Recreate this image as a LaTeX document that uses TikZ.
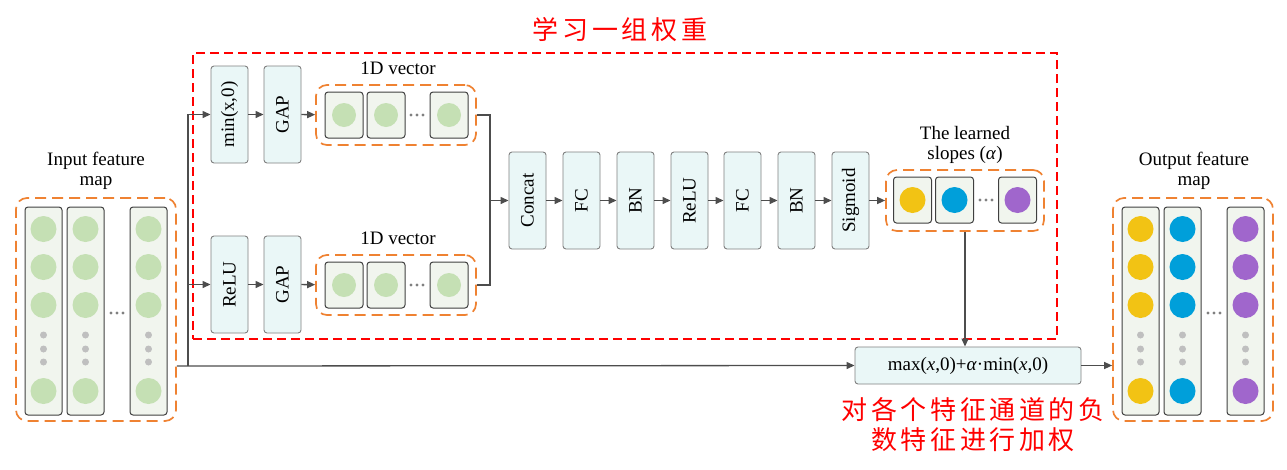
\documentclass[tikz,border=0pt]{standalone}
\usepackage{fontspec}
\setmainfont{Liberation Serif}
\newfontfamily\cjk[LetterSpace=14]{Noto Sans CJK SC}
\usetikzlibrary{arrows.meta}
\definecolor{boxfill}{HTML}{EAF7F7}
\definecolor{boxline}{HTML}{808080}
\definecolor{colfill}{HTML}{F1F5EE}
\definecolor{colline}{HTML}{404040}
\definecolor{grn}{HTML}{C5E0B4}
\definecolor{yel}{HTML}{F2C314}
\definecolor{blu}{HTML}{009FDA}
\definecolor{pur}{HTML}{A066CC}
\definecolor{org}{HTML}{EF8232}
\definecolor{dotgray}{HTML}{BFBFBF}
\definecolor{dgray}{HTML}{808080}
\definecolor{agray}{HTML}{4D4D4D}
\begin{document}
\begin{tikzpicture}[x=1pt,y=-1pt,font=\fontsize{19}{20}\selectfont,
  opbox/.style={draw=boxline,fill=boxfill,rounded corners=3pt,minimum width=37pt,minimum height=97pt,inner sep=0pt,line width=0.9pt},
  colbox/.style={draw=colline,fill=colfill,rounded corners=3pt,minimum width=37pt,minimum height=208pt,inner sep=0pt,line width=1pt},
  cell/.style={draw=colline,fill=colfill,rounded corners=3pt,minimum width=38pt,minimum height=46pt,inner sep=0pt,line width=1pt},
  grp/.style={draw=org,dash pattern=on 11pt off 6pt,rounded corners=11pt,line width=1.7pt,inner sep=0pt},
  ball/.style={circle,inner sep=0pt,minimum size=26pt},
  sball/.style={circle,inner sep=0pt,minimum size=24pt,fill=grn},
  vdot/.style={circle,fill=dotgray,inner sep=0pt,minimum size=7pt},
  hdot/.style={circle,fill=dgray,inner sep=0pt,minimum size=3.4pt},
  conn/.style={draw=agray,line width=1.3pt},
  arr/.style={conn,-{Triangle[length=8pt,width=7pt]}},
  redtxt/.style={text=red,font=\cjk\fontsize{26}{30}\selectfont,align=center}]
\useasboundingbox (0,0) rectangle (1287,469);

% red dashed region
\node[draw=red,dash pattern=on 9pt off 5pt,line width=2.2pt,minimum width=864pt,minimum height=286pt,inner sep=0pt] (learn) at (625,196) {};
\node[redtxt] (title) at (620,30) {学习一组权重};

% input feature map
\node[align=center] (inlab) at (96,171) {Input feature\\map};
\node[grp,minimum width=160pt,minimum height=223pt] (inbox) at (96,309.5) {};
\foreach \cx [count=\i] in {43.5,85.5,148.5}{
  \node[colbox] (inc\i) at (\cx,311) {};
  \foreach \cy [count=\j] in {229,267,305,391}
    \node[ball,fill=grn] (inb\i\j) at (\cx,\cy) {};
  \foreach \cy [count=\j] in {335,349,362}
    \node[vdot] (ind\i\j) at (\cx,\cy) {};
}
\foreach \dx [count=\k] in {111,117,123}
  \node[hdot] (inh\k) at (\dx,313) {};

% output feature map
\node[align=center] (outlab) at (1194,171) {Output feature\\map};
\node[grp,minimum width=160pt,minimum height=223pt] (outbox) at (1193,309.5) {};
\foreach \cx/\cc [count=\i] in {1140.5/yel,1182.5/blu,1245.5/pur}{
  \node[colbox] (outc\i) at (\cx,311) {};
  \foreach \cy [count=\j] in {229,267,305,391}
    \node[ball,fill=\cc] (outb\i\j) at (\cx,\cy) {};
  \foreach \cy [count=\j] in {335,349,362}
    \node[vdot] (outd\i\j) at (\cx,\cy) {};
}
\foreach \dx [count=\k] in {1208,1214,1220}
  \node[hdot] (outh\k) at (\dx,313) {};

% branch ops
\node[opbox] (minop) at (229.5,114.5) {\rotatebox{90}{min(x,0)}};
\node[opbox] (gap1) at (282.5,114.5) {\rotatebox{90}{GAP}};
\node[opbox] (reluop) at (229.5,284.5) {\rotatebox{90}{ReLU}};
\node[opbox] (gap2) at (282.5,284.5) {\rotatebox{90}{GAP}};

% 1D vectors
\foreach \vy/\nm in {115/vec1,285/vec2}{
  \node (\nm lab) at (398,\vy-47) {1D vector};
  \node[grp,minimum width=160pt,minimum height=60pt] (\nm) at (396,\vy) {};
  \foreach \cx [count=\i] in {344,386,449}{
    \node[cell] (\nm c\i) at (\cx,\vy) {};
    \node[sball] (\nm b\i) at (\cx,\vy) {};
  }
  \foreach \dx [count=\k] in {411,417,423}
    \node[hdot] (\nm h\k) at (\dx,\vy) {};
}

% pipeline
\foreach \px/\nm/\tx in {527.5/concat/Concat,581.5/fc1/FC,635.5/bn1/BN,689.5/relu2/ReLU,742.5/fc2/FC,796.5/bn2/BN,850.5/sig/Sigmoid}
  \node[opbox] (\nm) at (\px,200.5) {\rotatebox{90}{\tx}};

% slopes
\node[align=center] (slab) at (965,145) {The learned\\slopes (\textit{α})};
\node[grp,minimum width=158pt,minimum height=61pt] (slopes) at (965,200.5) {};
\foreach \cx/\cc [count=\i] in {912.5/yel,954.5/blu,1017.5/pur}{
  \node[cell] (sc\i) at (\cx,200) {};
  \node[ball,fill=\cc] (sb\i) at (\cx,200) {};
}
\foreach \dx [count=\k] in {980,986,992}
  \node[hdot] (sh\k) at (\dx,200) {};

% formula
\node[draw=boxline,fill=boxfill,rounded corners=3pt,minimum width=226pt,minimum height=37pt,inner sep=0pt,line width=0.9pt] (form) at (968,365.5) {max(\textit{x},0)+\textit{α}·min(\textit{x},0)};
\node[redtxt] (note) at (973,425) {对各个特征通道的负\\数特征进行加权};

% connectors
\coordinate (split) at (188,366);
\coordinate (join) at (490,200.5);
\draw[arr] (inbox.east |- split) -- (form.west);
\draw[arr] (split) |- (minop.west);
\draw[arr] (split) |- (reluop.west);
\draw[arr] (minop) -- (gap1);
\draw[arr] (reluop) -- (gap2);
\draw[arr] (gap1) -- (vec1);
\draw[arr] (gap2) -- (vec2);
\draw[conn] (vec1.east) -| (join);
\draw[conn] (vec2.east) -| (join);
\draw[arr] (join) -- (concat);
\draw[arr] (concat) -- (fc1);
\draw[arr] (fc1) -- (bn1);
\draw[arr] (bn1) -- (relu2);
\draw[arr] (relu2) -- (fc2);
\draw[arr] (fc2) -- (bn2);
\draw[arr] (bn2) -- (sig);
\draw[arr] (sig) -- (slopes);
\draw[arr] (slopes.south) -- (slopes.south |- form.north);
\draw[arr] (form.east) -- (form.east -| outbox.west);
\end{tikzpicture}
\end{document}
